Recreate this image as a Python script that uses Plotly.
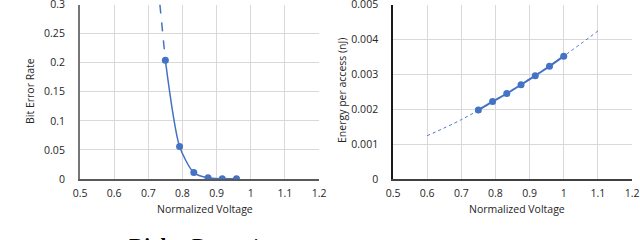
import plotly.graph_objects as go

# ---- data ----
ber_voltage = [0.75, 0.7917, 0.8333, 0.875, 0.9167, 0.9583]
ber_values = [0.204, 0.056, 0.011, 0.002, 0.0005, 0.0003]
ber_ext_voltage = [0.734, 0.75]
ber_ext_values = [0.30, 0.204]

energy_voltage = [0.75, 0.7917, 0.8333, 0.875, 0.9167, 0.9583, 1.0]
energy_values = [0.00198, 0.00222, 0.00245, 0.00270, 0.00296, 0.00323, 0.00352]
trend_voltage = [0.6, 0.7, 0.8, 0.9, 1.0, 1.1]
trend_values = [0.00124, 0.00170, 0.00226, 0.00287, 0.00352, 0.00424]

x_ticks = [0.5, 0.6, 0.7, 0.8, 0.9, 1.0, 1.1, 1.2]
x_ticktext = ["0.5", "0.6", "0.7", "0.8", "0.9", "1", "1.1", "1.2"]
ber_ticks = [0, 0.05, 0.1, 0.15, 0.2, 0.25, 0.3]
ber_ticktext = ["0", "0.05", "0.1", "0.15", "0.2", "0.25", "0.3"]
energy_ticks = [0, 0.001, 0.002, 0.003, 0.004, 0.005]
energy_ticktext = ["0", "0.001", "0.002", "0.003", "0.004", "0.005"]

BLUE = "#4472C4"
GRID = "#D9D9D9"
TXT = "#262626"
FONT = "Open Sans"
FS = 10.5
W, H = 640, 240

def px(x):
    return x / W

def py(y):
    return 1 - y / H

fig = go.Figure()

# Left: BER
fig.add_trace(go.Scatter(x=ber_ext_voltage, y=ber_ext_values, mode="lines",
                         line=dict(color=BLUE, width=1.5, dash="dash"),
                         xaxis="x", yaxis="y", showlegend=False))
fig.add_trace(go.Scatter(x=ber_voltage, y=ber_values, mode="lines+markers",
                         line=dict(color=BLUE, width=1.5, shape="spline", smoothing=0.7),
                         marker=dict(color=BLUE, size=7),
                         xaxis="x", yaxis="y", showlegend=False))

# Right: energy
fig.add_trace(go.Scatter(x=trend_voltage, y=trend_values, mode="lines",
                         line=dict(color=BLUE, width=1, dash="dot", shape="spline"),
                         xaxis="x2", yaxis="y2", showlegend=False))
fig.add_trace(go.Scatter(x=energy_voltage, y=energy_values, mode="lines+markers",
                         line=dict(color=BLUE, width=2, shape="spline"),
                         marker=dict(color=BLUE, size=7),
                         xaxis="x2", yaxis="y2", showlegend=False))

ydom = [py(179), py(4.5)]
tickfont = dict(family=FONT, size=FS, color=TXT)
common_x = dict(range=[0.5, 1.2], tickvals=x_ticks, ticktext=x_ticktext,
                showgrid=True, gridcolor=GRID, gridwidth=1, zeroline=False,
                showline=True, linewidth=1.5, ticks="", ticklabelstandoff=4,
                ticklabeloverflow="allow", tickfont=tickfont, automargin=False)
common_y = dict(showgrid=True, gridcolor=GRID, zeroline=False, showline=True,
                ticks="", ticklabelstandoff=11, ticklabeloverflow="allow",
                tickfont=tickfont, automargin=False)

fig.update_layout(
    width=W, height=H,
    margin=dict(l=0, r=0, t=0, b=0),
    paper_bgcolor="white", plot_bgcolor="white",
    xaxis=dict(domain=[px(80), px(319)], anchor="y", linecolor="#595959", **common_x),
    yaxis=dict(domain=ydom, anchor="x", range=[0, 0.3], tickvals=ber_ticks, ticktext=ber_ticktext,
               linecolor="#767676", linewidth=2, **common_y),
    xaxis2=dict(domain=[px(393), px(632)], anchor="y2", linecolor="#404040", **common_x),
    yaxis2=dict(domain=ydom, anchor="x2", range=[0, 0.005], tickvals=energy_ticks,
                ticktext=energy_ticktext, linecolor="#1a1a1a", linewidth=1.5, **common_y),
)

ann = [
    dict(text="Bit Error Rate", x=px(30), y=py(91), textangle=-90),
    dict(text="Normalized Voltage", x=px(205), y=py(209)),
    dict(text="Energy per access (nJ)", x=px(342), y=py(91), textangle=-90),
    dict(text="Normalized Voltage", x=px(517), y=py(209)),
]
for a in ann:
    fig.add_annotation(xref="paper", yref="paper", showarrow=False,
                       xanchor="center", yanchor="middle",
                       font=dict(family=FONT, size=FS, color=TXT), **a)

fig.add_annotation(xref="paper", yref="paper", showarrow=False, text="<b>Right:</b> Dynamic",
                   x=px(127), y=py(232), xanchor="left", yanchor="top",
                   font=dict(family="Liberation Serif", size=21, color="black"))

fig.write_html("out.html", config={"displayModeBar": False},
               post_script="document.body.style.margin='0';document.body.style.overflow='hidden';")
